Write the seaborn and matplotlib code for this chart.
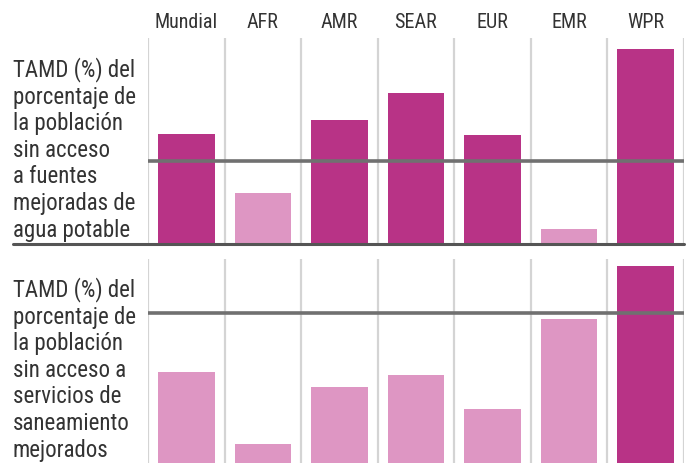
import matplotlib
matplotlib.use("Agg")
import matplotlib.pyplot as plt
import seaborn as sns
import pandas as pd
from matplotlib.lines import Line2D

# regions (column order) and values
regions = ['Mundial', 'AFR', 'AMR', 'SEAR', 'EUR', 'EMR', 'WPR']
agua = [110, 51, 124, 151, 109, 15, 195]
agua_ref = 83.5
saneamiento = [91, 19, 76, 88, 54, 144, 197]
saneamiento_ref = 150

label_agua = ("TAMD (%) del\nporcentaje de\nla población\nsin acceso\n"
              "a fuentes\nmejoradas de\nagua potable")
label_san = ("TAMD (%) del\nporcentaje de\nla población\nsin acceso a\n"
             "servicios de\nsaneamiento\nmejorados")

DARK = '#B83386'
LIGHT = '#DE96C3'

sns.set_style("white")
plt.rcParams['font.family'] = ['Roboto Condensed', 'Archivo Narrow', 'PT Sans Narrow',
                               'Liberation Sans Narrow', 'DejaVu Sans']

W, H = 692, 463
fig = plt.figure(figsize=(W / 100, H / 100), dpi=100)


def px_axes(x0, y0, x1, y1):
    # axes from pixel box (top-left origin)
    return fig.add_axes([x0 / W, 1 - y1 / H, (x1 - x0) / W, (y1 - y0) / H])


def panel(ax, values, ref, ylim):
    df = pd.DataFrame({'region': regions, 'valor': values})
    df['grupo'] = ['alto' if v > ref else 'bajo' for v in values]
    sns.barplot(data=df, x='region', y='valor', hue='grupo',
                palette={'alto': DARK, 'bajo': LIGHT}, width=0.74,
                dodge=False, legend=False, ax=ax, saturation=1, zorder=2,
                linewidth=0)
    for b in range(len(regions) + 1):
        ax.axvline(b - 0.5, color='#D4D4D4', lw=1.6, zorder=1)
    ax.axhline(ref, color='#707070', lw=2.6, zorder=3)
    ax.set_xlim(-0.5, len(regions) - 0.5)
    ax.set_ylim(*ylim)
    ax.set_xlabel('')
    ax.set_ylabel('')
    ax.set_xticks([])
    ax.set_yticks([])
    sns.despine(ax=ax, left=True, bottom=True)


ax1 = px_axes(148, 38, 684, 244)
panel(ax1, agua, agua_ref, (0, 206))
ax2 = px_axes(148, 259, 684, 463)
panel(ax2, saneamiento, saneamiento_ref, (0, 204))

# column headers
for i, r in enumerate(regions):
    ax1.text(i, 1.0 + 6 / 206, r, transform=ax1.get_xaxis_transform(),
             ha='center', va='bottom', fontsize=14.5, color='#333333')

# baseline of the top panel, running under the label too
fig.add_artist(Line2D([13 / W, 684 / W], [1 - 244 / H, 1 - 244 / H],
                      color='#555555', lw=2.2))

fig.text(13 / W, 1 - 57 / H, label_agua, ha='left', va='top', fontsize=16.5,
         color='#333333', linespacing=1.2)
fig.text(13 / W, 1 - 277 / H, label_san, ha='left', va='top', fontsize=16.5,
         color='#333333', linespacing=1.2)

fig.savefig('out.png', dpi=100)
